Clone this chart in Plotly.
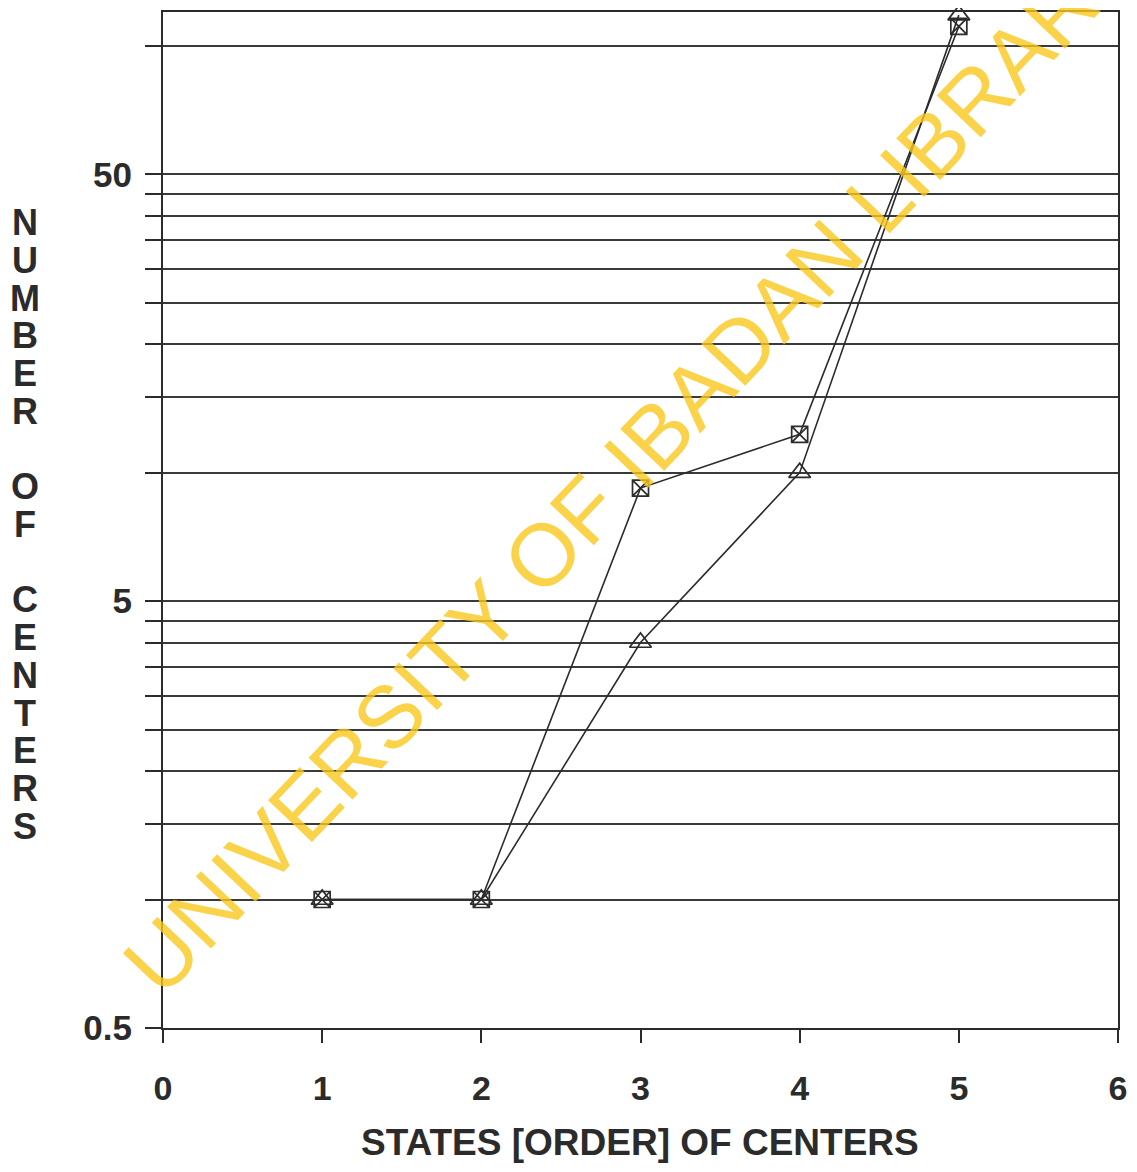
import plotly.graph_objects as go
import math

# ---- data ----
states = [1, 2, 3, 4, 5]
centers_a = [1, 1, 9.2, 12.3, 111]   # box-x markers
centers_b = [1, 1, 4, 10, 118]       # triangle markers

x_ticks = [0, 1, 2, 3, 4, 5, 6]
y_grid = [0.5, 1, 1.5, 2, 2.5, 3, 3.5, 4, 4.5, 5,
          10, 15, 20, 25, 30, 35, 40, 45, 50, 100]
y_labels = {0.5: "0.5", 5: "5", 50: "50"}

x_title = "STATES [ORDER] OF CENTERS"
y_title_letters = ["N", "U", "M", "B", "E", "R", "", "O", "F", "",
                   "C", "E", "N", "T", "E", "R", "S"]
watermark = "UNIVERSITY OF IBADAN LIBRARY"

# page body has an 8px margin; compensate so the plot lands where the reference has it
OFF = 8
W, H = 1137 - 2 * OFF, 1172 - 2 * OFF
PL, PT, PW, PH = 163, 10, 955, 1018          # target plot box in page pixels
L, T = PL - OFF, PT - OFF
R = W - L - PW
B = H - T - PH

def px_x(px):
    return (px - PL) / PW

def px_y(py):
    return (PT + PH - py) / PH

ink = "#2b2b2b"
font_fam = "Liberation Sans, Arial, sans-serif"

fig = go.Figure()
fig.add_trace(go.Scatter(
    x=states, y=centers_a, mode="lines+markers",
    line=dict(color=ink, width=1.6),
    marker=dict(symbol="square-x-open", size=16, color=ink, line=dict(width=1.7, color=ink)),
    cliponaxis=False, showlegend=False))
fig.add_trace(go.Scatter(
    x=states, y=centers_b, mode="lines+markers",
    line=dict(color=ink, width=1.6),
    marker=dict(symbol="triangle-up-open", size=19, color=ink, line=dict(width=1.7, color=ink)),
    cliponaxis=False, showlegend=False))

annotations = []
# vertical stacked y title
top_px = 221
step = 37.8
for i, ch in enumerate(y_title_letters):
    if not ch:
        continue
    py = top_px + i * step
    annotations.append(dict(
        text=ch, x=px_x(25), y=px_y(py),
        xref="paper", yref="paper", showarrow=False,
        xanchor="center", yanchor="middle",
        font=dict(family=font_fam, size=36, color=ink, weight="bold")))

# x title
annotations.append(dict(
    text=x_title, x=px_x(640), y=px_y(1143),
    xref="paper", yref="paper", showarrow=False,
    xanchor="center", yanchor="middle",
    font=dict(family=font_fam, size=37, color=ink, weight="bold")))

# watermark
annotations.append(dict(
    text=watermark, x=px_x(630), y=px_y(461),
    xref="paper", yref="paper", showarrow=False,
    xanchor="center", yanchor="middle", textangle=-46.5,
    font=dict(family=font_fam, size=88, color="rgba(250,200,30,0.8)")))

fig.update_layout(
    width=W, height=H,
    margin=dict(l=L, r=R, t=T, b=B),
    paper_bgcolor="white", plot_bgcolor="white",
    annotations=annotations,
    xaxis=dict(
        range=[0, 6], tickvals=x_ticks, ticktext=[str(v) for v in x_ticks],
        ticks="outside", ticklen=13, tickwidth=1.6, tickcolor=ink,
        showline=True, linecolor=ink, linewidth=2, mirror=True,
        showgrid=False, zeroline=False,
        tickfont=dict(family=font_fam, size=34, color=ink, weight="bold"),
        ticklabelstandoff=16),
    yaxis=dict(
        type="log", range=[math.log10(0.5), math.log10(120)],
        tickvals=y_grid, ticktext=[y_labels.get(v, "") for v in y_grid],
        ticks="outside", ticklen=16, tickwidth=1.6, tickcolor=ink,
        showline=True, linecolor=ink, linewidth=2, mirror=True,
        showgrid=True, gridcolor="#3a3a3a", gridwidth=1.5,
        zeroline=False,
        tickfont=dict(family=font_fam, size=35, color=ink, weight="bold"),
        ticklabelstandoff=6),
)

fig.write_html("out.html")
